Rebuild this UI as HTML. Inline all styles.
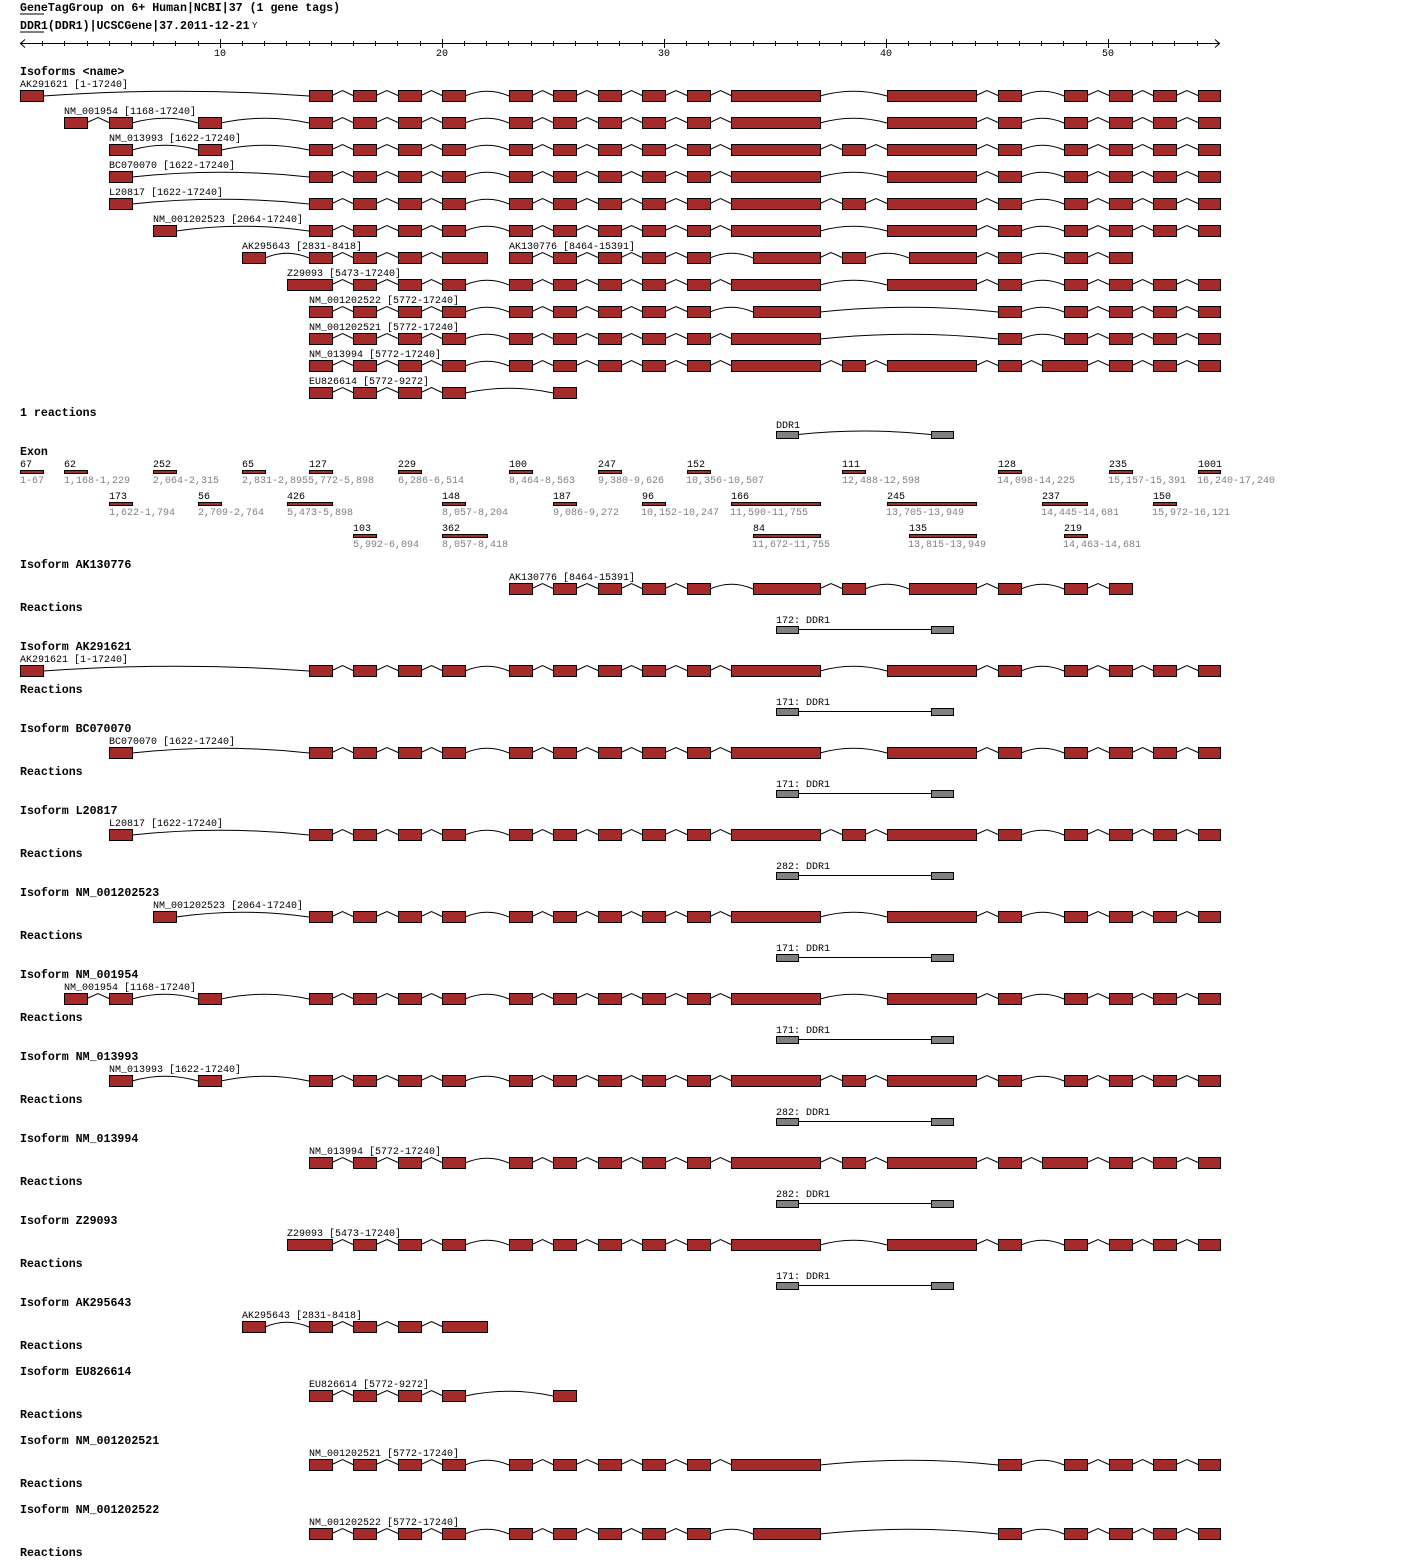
<!DOCTYPE html>
<html><head><meta charset="utf-8">
<style>
html,body{margin:0;padding:0;background:#fff;}
svg{display:block;}
text{font-family:"Liberation Mono",monospace;fill:#000;}
.h{font-size:11.6px;font-weight:bold;}
.l{font-size:10px;}
.g{font-size:10px;fill:#808080;}
</style></head><body>
<svg id="s" width="1420" height="1568" xmlns="http://www.w3.org/2000/svg">
<g id="shapes"></g>
<text class="h" x="20" y="11">GeneTagGroup on 6+ Human|NCBI|37 (1 gene tags)</text>
<line x1="20" y1="14" x2="44" y2="14" stroke="#000"/>
<text class="h" x="20" y="29">DDR1(DDR1)|UCSCGene|37.2011-12-21</text>
<text class="l" x="252" y="28" style="font-size:9px">Y</text>
<line x1="20" y1="32" x2="44" y2="32" stroke="#000"/>
<text class="l" x="214" y="56">10</text>
<text class="l" x="436" y="56">20</text>
<text class="l" x="658" y="56">30</text>
<text class="l" x="880" y="56">40</text>
<text class="l" x="1102" y="56">50</text>

<text class="h" x="20" y="75">Isoforms &lt;name&gt;</text>
<text class="l" x="20" y="87">AK291621 [1-17240]</text>
<text class="l" x="64" y="114">NM_001954 [1168-17240]</text>
<text class="l" x="109" y="141">NM_013993 [1622-17240]</text>
<text class="l" x="109" y="168">BC070070 [1622-17240]</text>
<text class="l" x="109" y="195">L20817 [1622-17240]</text>
<text class="l" x="153" y="222">NM_001202523 [2064-17240]</text>
<text class="l" x="242" y="249">AK295643 [2831-8418]</text>
<text class="l" x="509" y="249">AK130776 [8464-15391]</text>
<text class="l" x="287" y="276">Z29093 [5473-17240]</text>
<text class="l" x="309" y="303">NM_001202522 [5772-17240]</text>
<text class="l" x="309" y="330">NM_001202521 [5772-17240]</text>
<text class="l" x="309" y="357">NM_013994 [5772-17240]</text>
<text class="l" x="309" y="384">EU826614 [5772-9272]</text>

<text class="h" x="20" y="416">1 reactions</text>
<text class="l" x="776" y="428">DDR1</text>

<text class="h" x="20" y="455">Exon</text>
<text class="l" x="20" y="467">67</text><text class="g" x="20" y="483">1-67</text>
<text class="l" x="64" y="467">62</text><text class="g" x="64" y="483">1,168-1,229</text>
<text class="l" x="153" y="467">252</text><text class="g" x="153" y="483">2,064-2,315</text>
<text class="l" x="242" y="467">65</text><text class="g" x="242" y="483">2,831-2,895</text>
<text class="l" x="309" y="467">127</text><text class="g" x="308" y="483">5,772-5,898</text>
<text class="l" x="398" y="467">229</text><text class="g" x="398" y="483">6,286-6,514</text>
<text class="l" x="509" y="467">100</text><text class="g" x="509" y="483">8,464-8,563</text>
<text class="l" x="598" y="467">247</text><text class="g" x="598" y="483">9,380-9,626</text>
<text class="l" x="687" y="467">152</text><text class="g" x="686" y="483">10,356-10,507</text>
<text class="l" x="842" y="467">111</text><text class="g" x="842" y="483">12,488-12,598</text>
<text class="l" x="998" y="467">128</text><text class="g" x="997" y="483">14,098-14,225</text>
<text class="l" x="1109" y="467">235</text><text class="g" x="1108" y="483">15,157-15,391</text>
<text class="l" x="1198" y="467">1001</text><text class="g" x="1197" y="483">16,240-17,240</text>
<text class="l" x="109" y="499">173</text><text class="g" x="109" y="515">1,622-1,794</text>
<text class="l" x="198" y="499">56</text><text class="g" x="198" y="515">2,709-2,764</text>
<text class="l" x="287" y="499">426</text><text class="g" x="287" y="515">5,473-5,898</text>
<text class="l" x="442" y="499">148</text><text class="g" x="442" y="515">8,057-8,204</text>
<text class="l" x="553" y="499">187</text><text class="g" x="553" y="515">9,086-9,272</text>
<text class="l" x="642" y="499">96</text><text class="g" x="641" y="515">10,152-10,247</text>
<text class="l" x="731" y="499">166</text><text class="g" x="730" y="515">11,590-11,755</text>
<text class="l" x="887" y="499">245</text><text class="g" x="886" y="515">13,705-13,949</text>
<text class="l" x="1042" y="499">237</text><text class="g" x="1041" y="515">14,445-14,681</text>
<text class="l" x="1153" y="499">150</text><text class="g" x="1152" y="515">15,972-16,121</text>
<text class="l" x="353" y="531">103</text><text class="g" x="353" y="547">5,992-6,094</text>
<text class="l" x="442" y="531">362</text><text class="g" x="442" y="547">8,057-8,418</text>
<text class="l" x="753" y="531">84</text><text class="g" x="752" y="547">11,672-11,755</text>
<text class="l" x="909" y="531">135</text><text class="g" x="908" y="547">13,815-13,949</text>
<text class="l" x="1064" y="531">219</text><text class="g" x="1063" y="547">14,463-14,681</text>

<text class="h" x="20" y="568">Isoform AK130776</text>
<text class="l" x="509" y="580">AK130776 [8464-15391]</text>
<text class="h" x="20" y="611">Reactions</text>
<text class="l" x="776" y="623">172: DDR1</text>

<text class="h" x="20" y="650">Isoform AK291621</text>
<text class="l" x="20" y="662">AK291621 [1-17240]</text>
<text class="h" x="20" y="693">Reactions</text>
<text class="l" x="776" y="705">171: DDR1</text>

<text class="h" x="20" y="732">Isoform BC070070</text>
<text class="l" x="109" y="744">BC070070 [1622-17240]</text>
<text class="h" x="20" y="775">Reactions</text>
<text class="l" x="776" y="787">171: DDR1</text>

<text class="h" x="20" y="814">Isoform L20817</text>
<text class="l" x="109" y="826">L20817 [1622-17240]</text>
<text class="h" x="20" y="857">Reactions</text>
<text class="l" x="776" y="869">282: DDR1</text>

<text class="h" x="20" y="896">Isoform NM_001202523</text>
<text class="l" x="153" y="908">NM_001202523 [2064-17240]</text>
<text class="h" x="20" y="939">Reactions</text>
<text class="l" x="776" y="951">171: DDR1</text>

<text class="h" x="20" y="978">Isoform NM_001954</text>
<text class="l" x="64" y="990">NM_001954 [1168-17240]</text>
<text class="h" x="20" y="1021">Reactions</text>
<text class="l" x="776" y="1033">171: DDR1</text>

<text class="h" x="20" y="1060">Isoform NM_013993</text>
<text class="l" x="109" y="1072">NM_013993 [1622-17240]</text>
<text class="h" x="20" y="1103">Reactions</text>
<text class="l" x="776" y="1115">282: DDR1</text>

<text class="h" x="20" y="1142">Isoform NM_013994</text>
<text class="l" x="309" y="1154">NM_013994 [5772-17240]</text>
<text class="h" x="20" y="1185">Reactions</text>
<text class="l" x="776" y="1197">282: DDR1</text>

<text class="h" x="20" y="1224">Isoform Z29093</text>
<text class="l" x="287" y="1236">Z29093 [5473-17240]</text>
<text class="h" x="20" y="1267">Reactions</text>
<text class="l" x="776" y="1279">171: DDR1</text>

<text class="h" x="20" y="1306">Isoform AK295643</text>
<text class="l" x="242" y="1318">AK295643 [2831-8418]</text>
<text class="h" x="20" y="1349">Reactions</text>

<text class="h" x="20" y="1375">Isoform EU826614</text>
<text class="l" x="309" y="1387">EU826614 [5772-9272]</text>
<text class="h" x="20" y="1418">Reactions</text>

<text class="h" x="20" y="1444">Isoform NM_001202521</text>
<text class="l" x="309" y="1456">NM_001202521 [5772-17240]</text>
<text class="h" x="20" y="1487">Reactions</text>

<text class="h" x="20" y="1513">Isoform NM_001202522</text>
<text class="l" x="309" y="1525">NM_001202522 [5772-17240]</text>
<text class="h" x="20" y="1556">Reactions</text>
</svg>
<script>
(function(){
var NS="http://www.w3.org/2000/svg";
var g=document.getElementById("shapes");
function el(n,a){var e=document.createElementNS(NS,n);for(var k in a)e.setAttribute(k,a[k]);g.appendChild(e);return e;}
el("line",{x1:20,y1:43.5,x2:1220,y2:43.5,stroke:"#000"});
el("polyline",{points:"25,39.5 20.5,43.5 25,47.5",fill:"none",stroke:"#000"});
el("polyline",{points:"1215,39.5 1219.5,43.5 1215,47.5",fill:"none",stroke:"#000"});
for(var u=2;u<=54;u++){var x=Math.round(20+(u-1)*22.2)+0.5;
 if(u%10==0) el("line",{x1:x,y1:39,x2:x,y2:48,stroke:"#000"});
 else el("line",{x1:x,y1:41,x2:x,y2:46,stroke:"#000"});}
var S={A:[20,43],B:[64,87],C:[109,132],D:[153,176],E:[198,221],F:[242,265],G:[287,332],H:[309,332],I:[353,376],J:[398,421],K:[442,465],K2:[442,487],L:[509,532],M:[553,576],N:[598,621],O:[642,665],P:[687,710],Q:[731,820],Q2:[753,820],R:[842,865],S:[887,976],S2:[909,976],T:[998,1021],U:[1064,1087],U2:[1042,1087],V:[1109,1132],W:[1153,1176],X:[1198,1220]};
function iso(top,list){
 var ex=list.split(" ").map(function(k){return S[k];});
 var mid=top+5.5;
 for(var i=0;i<ex.length-1;i++){
  var x1=ex[i][1],x2=ex[i+1][0],cx=(x1+x2)/2;
  if(x2-x1<30) el("polyline",{points:x1+","+mid+" "+cx+","+(mid-5)+" "+x2+","+mid,fill:"none",stroke:"#000"});
  else el("path",{d:"M"+x1+" "+(mid+0.5)+" Q"+cx+" "+(mid-9)+" "+x2+" "+(mid+0.5),fill:"none",stroke:"#000"});
 }
 ex.forEach(function(e){el("rect",{x:e[0]+0.5,y:top+0.5,width:e[1]-e[0],height:11,fill:"#a52a2a",stroke:"#000"});});
}
var I={
AK291621:"A H I J K L M N O P Q S T U V W X",
NM_001954:"B C E H I J K L M N O P Q S T U V W X",
NM_013993:"C E H I J K L M N O P Q R S T U V W X",
BC070070:"C H I J K L M N O P Q S T U V W X",
L20817:"C H I J K L M N O P Q R S T U V W X",
NM_001202523:"D H I J K L M N O P Q S T U V W X",
AK295643:"F H I J K2",
AK130776:"L M N O P Q2 R S2 T U V",
Z29093:"G I J K L M N O P Q S T U V W X",
NM_001202522:"H I J K L M N O P Q2 T U V W X",
NM_001202521:"H I J K L M N O P Q T U V W X",
NM_013994:"H I J K L M N O P Q R S T U2 V W X",
EU826614:"H I J K M"};
var order=["AK291621","NM_001954","NM_013993","BC070070","L20817","NM_001202523","AK295643","Z29093","NM_001202522","NM_001202521","NM_013994","EU826614"];
order.forEach(function(n,i){iso(90+27*i,I[n]);});
iso(90+27*6,I.AK130776);
function react(top,curve){
 var mid=top+3.5;
 if(curve) el("path",{d:"M798 "+mid+" Q864 "+(mid-7)+" 931 "+mid,fill:"none",stroke:"#000"});
 else el("line",{x1:798,y1:mid,x2:931,y2:mid,stroke:"#000"});
 el("rect",{x:776.5,y:top+0.5,width:22,height:7,fill:"#808080",stroke:"#000"});
 el("rect",{x:931.5,y:top+0.5,width:22,height:7,fill:"#808080",stroke:"#000"});
}
react(431,true);
function bar(k,y){var e=S[k];el("rect",{x:e[0]+0.5,y:y+0.5,width:e[1]-e[0],height:3,fill:"#a52a2a",stroke:"#000"});}
"A B D F H J L N P R T V X".split(" ").forEach(function(k){bar(k,470);});
"C E G K M O Q S U2 W".split(" ").forEach(function(k){bar(k,502);});
"I K2 Q2 S2 U".split(" ").forEach(function(k){bar(k,534);});
var sec=[["AK130776",564,1],["AK291621",646,1],["BC070070",728,1],["L20817",810,1],["NM_001202523",892,1],["NM_001954",974,1],["NM_013993",1056,1],["NM_013994",1138,1],["Z29093",1220,1],["AK295643",1302,0],["EU826614",1371,0],["NM_001202521",1440,0],["NM_001202522",1509,0]];
sec.forEach(function(s){iso(s[1]+19,I[s[0]]); if(s[2]) react(s[1]+62,false);});
})();
</script>
</body></html>
